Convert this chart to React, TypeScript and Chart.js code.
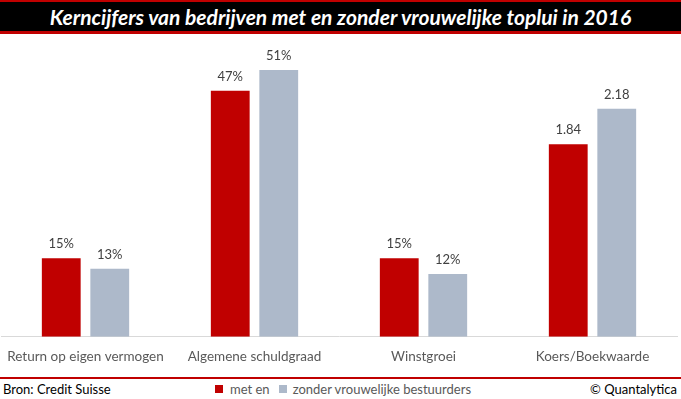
import React, { useEffect, useRef } from "react";
import { Chart, registerables } from "chart.js";

Chart.register(...registerables);

const categories = ["Return op eigen vermogen", "Algemene schuldgraad", "Winstgroei", "Koers/Boekwaarde"];
const metEn = [15, 47, 15, 1.84];
const zonder = [13, 51, 12, 2.18];
const labelsMetEn = ["15%", "47%", "15%", "1.84"];
const labelsZonder = ["13%", "51%", "12%", "2.18"];
// the ratio category is drawn on a x20 scale next to the percentages
const categoryScale = [1, 1, 1, 20];
const seriesNames = ["met en", "zonder vrouwelijke bestuurders"];
const colors = ["#C00000", "#ADB9CA"];

const FONT = "Lato, 'Open Sans', sans-serif";

export default function App() {
  const ref = useRef<HTMLCanvasElement>(null);
  useEffect(() => {
    document.body.style.margin = "0";
    const labelsPerSeries = [labelsMetEn, labelsZonder];
    const valueLabels = {
      id: "valueLabels",
      afterDatasetsDraw(chart: any) {
        const ctx = chart.ctx;
        ctx.save();
        ctx.font = `13px ${FONT}`;
        ctx.fillStyle = "#404040";
        ctx.textAlign = "center";
        ctx.textBaseline = "middle";
        chart.data.datasets.forEach((ds: any, di: number) => {
          const meta = chart.getDatasetMeta(di);
          meta.data.forEach((bar: any, i: number) => {
            ctx.fillText(labelsPerSeries[di][i], bar.x, bar.y - 14);
          });
        });
        ctx.restore();
      },
    };
    const chart = new Chart(ref.current!, {
      type: "bar",
      data: {
        labels: categories,
        datasets: [
          { label: seriesNames[0], data: metEn.map((v, i) => v * categoryScale[i]), backgroundColor: colors[0] },
          { label: seriesNames[1], data: zonder.map((v, i) => v * categoryScale[i]), backgroundColor: colors[1] },
        ],
      },
      options: {
        animation: false,
        responsive: false,
        maintainAspectRatio: false,
        categoryPercentage: 0.574,
        barPercentage: 0.8,
        layout: { padding: { top: 9, left: 1, right: 4, bottom: 0 } },
        plugins: { legend: { display: false }, tooltip: { enabled: false } },
        scales: {
          x: {
            grid: { display: false },
            border: { display: true, color: "#D9D9D9", width: 1 },
            ticks: { color: "#595959", font: { family: FONT, size: 13.5 }, padding: 4, maxRotation: 0, autoSkip: false },
          },
          y: { display: false, min: 0, max: 55 },
        },
      },
      plugins: [valueLabels],
    });
    return () => chart.destroy();
  }, []);

  return (
    <div style={{ position: "relative", width: 681, height: 399, background: "#fff", overflow: "hidden", fontFamily: FONT }}>
      <div style={{ position: "absolute", left: 0, top: 0, width: 681, height: 2, background: "#C00000" }} />
      <div style={{ position: "absolute", left: 0, top: 2, width: 681, height: 29, background: "#000", color: "#fff", fontWeight: 700, fontStyle: "italic", fontSize: 21, lineHeight: "29px", textAlign: "center", whiteSpace: "nowrap" }}>
        Kerncijfers van bedrijven met en zonder vrouwelijke toplui in 2016
      </div>
      <div style={{ position: "absolute", left: 0, top: 31, width: 681, height: 3, background: "#C00000" }} />
      <canvas ref={ref} width={681} height={329} style={{ position: "absolute", left: 0, top: 40, width: 681, height: 329 }} />
      <div style={{ position: "absolute", left: 0, top: 377, width: 681, height: 2, background: "#C00000" }} />
      <div style={{ position: "absolute", left: 3, top: 381, fontSize: 13, lineHeight: "16px", color: "#000", whiteSpace: "nowrap" }}>Bron: Credit Suisse</div>
      <div style={{ position: "absolute", left: 215, top: 381, fontSize: 13, lineHeight: "16px", color: "#595959", whiteSpace: "nowrap", display: "flex", alignItems: "center" }}>
        <span style={{ display: "inline-block", width: 8, height: 8, background: colors[0], marginRight: 7 }} />
        <span>{seriesNames[0]}</span>
        <span style={{ display: "inline-block", width: 8, height: 8, background: colors[1], marginLeft: 9, marginRight: 6 }} />
        <span>{seriesNames[1]}</span>
      </div>
      <div style={{ position: "absolute", right: 4, top: 381, fontSize: 13, lineHeight: "16px", color: "#000", whiteSpace: "nowrap" }}>© Quantalytica</div>
    </div>
  );
}
